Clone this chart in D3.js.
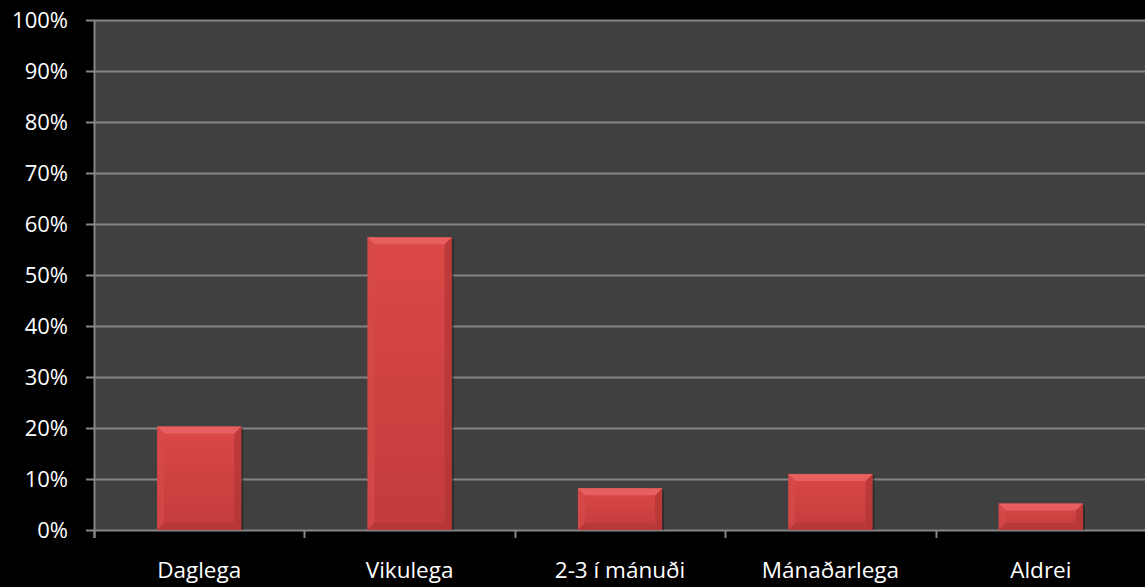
<!DOCTYPE html>
<html>
<head>
<meta charset="utf-8">
<script src="https://cdn.jsdelivr.net/npm/d3@7"></script>
<style>
  html, body { margin: 0; padding: 0; background: #000; }
  svg { display: block; }
</style>
</head>
<body>
<div id="chart"></div>
<script>
// data
const categories = ["Daglega", "Vikulega", "2-3 í mánuði", "Mánaðarlega", "Aldrei"];
const values = [0.203, 0.574, 0.082, 0.11, 0.052];
const yTicks = [0, 0.1, 0.2, 0.3, 0.4, 0.5, 0.6, 0.7, 0.8, 0.9, 1.0];

const width = 1145, height = 587;
const margin = { top: 20, right: -1, bottom: 57, left: 94 };

const svg = d3.select("#chart").append("svg")
    .attr("width", width)
    .attr("height", height)
    .style("background", "#000");

const defs = svg.append("defs");
const grad = defs.append("linearGradient")
    .attr("id", "barFill")
    .attr("x1", 0).attr("y1", 0).attr("x2", 0).attr("y2", 1);
grad.append("stop").attr("offset", "0%").attr("stop-color", "#dc4848");
grad.append("stop").attr("offset", "100%").attr("stop-color", "#c23b3b");

const x = d3.scaleBand()
    .domain(categories)
    .range([margin.left, width - margin.right])
    .paddingInner(0.6)
    .paddingOuter(0.3);

const y = d3.scaleLinear()
    .domain([0, 1])
    .range([height - margin.bottom, margin.top]);

// plot area
svg.append("rect")
    .attr("x", margin.left)
    .attr("y", y(1))
    .attr("width", width - margin.left)
    .attr("height", y(0) - y(1))
    .attr("fill", "#404040");

// gridlines
svg.append("g")
    .selectAll("line")
    .data(yTicks)
    .enter()
    .append("line")
    .attr("x1", margin.left - 8)
    .attr("x2", width)
    .attr("y1", d => Math.round(y(d)) + 0.5)
    .attr("y2", d => Math.round(y(d)) + 0.5)
    .attr("stroke", "#858585")
    .attr("stroke-width", 2);

// y axis line
svg.append("line")
    .attr("x1", margin.left + 0.5).attr("x2", margin.left + 0.5)
    .attr("y1", y(1)).attr("y2", y(0) + 8)
    .attr("stroke", "#858585")
    .attr("stroke-width", 2);

// y labels
svg.append("g")
    .selectAll("text")
    .data(yTicks)
    .enter()
    .append("text")
    .attr("x", 68)
    .attr("y", d => y(d))
    .attr("dy", "0.36em")
    .attr("text-anchor", "end")
    .attr("fill", "#fff")
    .style("font-family", "'Open Sans', sans-serif")
    .style("font-size", "22px")
    .text(d => d3.format(".0%")(d));

// x axis category ticks
const bounds = d3.range(categories.length + 1).map(i => margin.left + i * (width - margin.right - margin.left) / categories.length);
svg.append("g")
    .selectAll("line")
    .data(bounds)
    .enter()
    .append("line")
    .attr("x1", d => Math.round(d) + 0.5)
    .attr("x2", d => Math.round(d) + 0.5)
    .attr("y1", y(0))
    .attr("y2", y(0) + 8)
    .attr("stroke", "#858585")
    .attr("stroke-width", 2);

// x labels
svg.append("g")
    .selectAll("text")
    .data(categories)
    .enter()
    .append("text")
    .attr("x", d => x(d) + x.bandwidth() / 2)
    .attr("y", 578)
    .attr("text-anchor", "middle")
    .attr("fill", "#fff")
    .style("font-family", "'Open Sans', sans-serif")
    .style("font-size", "22.5px")
    .text(d => d);

// bars with bevel
const bev = 7;
const bars = svg.append("g")
    .selectAll("g")
    .data(categories.map((c, i) => ({ c: c, v: values[i] })))
    .enter()
    .append("g");

bars.append("rect")
    .attr("x", d => x(d.c) + 2)
    .attr("y", d => y(d.v) + 2)
    .attr("width", x.bandwidth())
    .attr("height", d => y(0) - y(d.v) - 2)
    .attr("fill", "#1a1a1a")
    .attr("opacity", 0.5);

bars.append("rect")
    .attr("x", d => x(d.c))
    .attr("y", d => y(d.v))
    .attr("width", x.bandwidth())
    .attr("height", d => y(0) - y(d.v))
    .attr("fill", "url(#barFill)");

function bevelPoly(d, side) {
    const x0 = x(d.c), x1 = x(d.c) + x.bandwidth();
    const y0 = y(d.v), y1 = y(0);
    const b = Math.min(bev, (y1 - y0) / 2);
    if (side === "top") return [[x0, y0], [x1, y0], [x1 - b, y0 + b], [x0 + b, y0 + b]];
    if (side === "bottom") return [[x0, y1], [x1, y1], [x1 - b, y1 - b], [x0 + b, y1 - b]];
    if (side === "left") return [[x0, y0], [x0 + b, y0 + b], [x0 + b, y1 - b], [x0, y1]];
    return [[x1, y0], [x1 - b, y0 + b], [x1 - b, y1 - b], [x1, y1]];
}
const bevelColors = { top: "#ec6a6a", left: "#d64a4a", right: "#b03434", bottom: "#b43636" };
["left", "right", "bottom", "top"].forEach(side => {
    bars.append("polygon")
        .attr("points", d => bevelPoly(d, side).map(p => p.join(",")).join(" "))
        .attr("fill", bevelColors[side])
        .attr("opacity", 0.7);
});
</script>
</body>
</html>
